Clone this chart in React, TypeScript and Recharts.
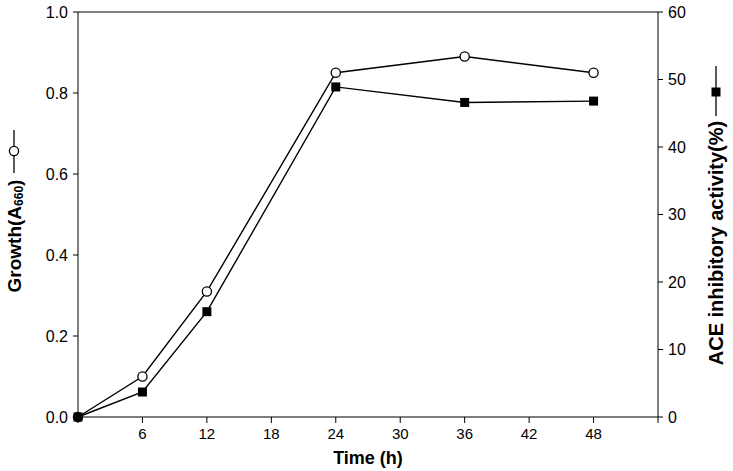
import { ComposedChart, Line, XAxis, YAxis, ReferenceLine } from "recharts";

const TIME = [0, 6, 12, 24, 36, 48];
const GROWTH = [0, 0.1, 0.31, 0.85, 0.89, 0.85];
const ACE = [0, 3.7, 15.6, 48.9, 46.6, 46.8];

const X_TICKS = [0, 6, 12, 18, 24, 30, 36, 42, 48, 54];
const GROWTH_TICKS = [0, 0.2, 0.4, 0.6, 0.8, 1.0];
const ACE_TICKS = [0, 10, 20, 30, 40, 50, 60];

const data = TIME.map((t, i) => ({ time: t, growth: GROWTH[i], ace: ACE[i] }));

const FONT = '"Liberation Sans", Arial, sans-serif';

const CircleDot = (p: any) => (
  <circle key={`c${p.index}`} cx={p.cx} cy={p.cy} r={4.6} fill="#fff" stroke="#000" strokeWidth={1.3} />
);

const SquareDot = (p: any) => (
  <rect key={`s${p.index}`} x={p.cx - 4.5} y={p.cy - 4.5} width={9} height={9} fill="#000" />
);

const leftTitle = () => (
  <g>
    <line x1={14} x2={14} y1={130} y2={173} stroke="#000" strokeWidth={1.3} />
    <circle cx={14} cy={151} r={4.6} fill="#fff" stroke="#000" strokeWidth={1.3} />
    <text
      x={14}
      y={236}
      transform="rotate(-90 14 236)"
      textAnchor="middle"
      dominantBaseline="central"
      fontFamily={FONT}
      fontWeight="bold"
      fontSize={19}
      fill="#000"
    >
      Growth(A
      <tspan fontSize={12} dy={5}>660</tspan>
      <tspan dy={-5}>)</tspan>
    </text>
  </g>
);

const rightTitle = () => (
  <g>
    <line x1={716} x2={716} y1={66} y2={116} stroke="#000" strokeWidth={1.3} />
    <rect x={711.5} y={87.5} width={9} height={9} fill="#000" />
    <text
      x={716}
      y={243}
      transform="rotate(-90 716 243)"
      textAnchor="middle"
      dominantBaseline="central"
      fontFamily={FONT}
      fontWeight="bold"
      fontSize={20}
      fill="#000"
    >
      ACE inhibitory activity(%)
    </text>
  </g>
);

const bottomTitle = () => (
  <text
    x={368}
    y={458}
    textAnchor="middle"
    dominantBaseline="central"
    fontFamily={FONT}
    fontWeight="bold"
    fontSize={18}
    fill="#000"
  >
    Time (h)
  </text>
);

export default function App() {
  return (
    <div style={{ position: "fixed", left: 0, top: 0, background: "#fff" }}>
      <ComposedChart
        width={733}
        height={471}
        data={data}
        margin={{ top: 12, right: 0, bottom: 0, left: 0 }}
        style={{ fontFamily: FONT }}
      >
        <XAxis
          type="number"
          dataKey="time"
          domain={[0, 54]}
          ticks={X_TICKS}
          tickFormatter={(v: number) => (v === 0 || v === 54 ? "" : String(v))}
          tickSize={6}
          tickMargin={5}
          height={54}
          stroke="#000"
          tick={{ fill: "#000", fontSize: 15 }}
          label={{ content: bottomTitle }}
        />
        <YAxis
          yAxisId="left"
          domain={[0, 1]}
          ticks={GROWTH_TICKS}
          tickFormatter={(v: number) => v.toFixed(1)}
          tickSize={5}
          tickMargin={5}
          width={78}
          stroke="#000"
          tick={{ fill: "#000", fontSize: 16 }}
          label={{ content: leftTitle }}
        />
        <YAxis
          yAxisId="right"
          orientation="right"
          domain={[0, 60]}
          ticks={ACE_TICKS}
          tickSize={5}
          tickMargin={5}
          width={75}
          stroke="#000"
          tick={{ fill: "#000", fontSize: 16 }}
          label={{ content: rightTitle }}
        />
        <ReferenceLine yAxisId="left" y={1} stroke="#000" />
        <Line
          yAxisId="left"
          type="linear"
          dataKey="growth"
          stroke="#000"
          strokeWidth={1.4}
          dot={CircleDot}
          activeDot={false}
          isAnimationActive={false}
        />
        <Line
          yAxisId="right"
          type="linear"
          dataKey="ace"
          stroke="#000"
          strokeWidth={1.4}
          dot={SquareDot}
          activeDot={false}
          isAnimationActive={false}
        />
      </ComposedChart>
    </div>
  );
}
